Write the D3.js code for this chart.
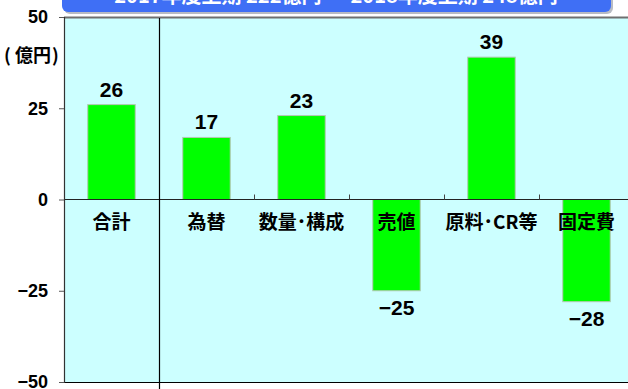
<!DOCTYPE html>
<html>
<head>
<meta charset="utf-8">
<script src="https://cdn.jsdelivr.net/npm/d3@7"></script>
<style>
  body { margin: 0; background: #fff; }
  svg { display: block; font-family: "Noto Sans CJK JP", "Noto Sans", sans-serif; }
  .unit tspan { font-size: 18px; font-weight: bold; }
</style>
</head>
<body>
<div id="chart"></div>
<script>
// data
let categories = ["合計", "為替", "数量･構成", "売値", "原料･CR等", "固定費"];
let values = [26, 17, 23, -25, 39, -28];
let yTicks = [50, 25, 0, -25, -50];
let bannerText = "2017年度上期 222億円 → 2018年度上期 248億円";
let unitLabel = "億円";

let width = 628, height = 389;
let plot = {left: 64, top: 17, right: 634, bottom: 382};
let numFont = "'Liberation Sans', Arial, sans-serif";

let svg = d3.select("#chart").append("svg")
    .attr("width", width)
    .attr("height", height);

let x = d3.scaleBand()
    .domain(categories)
    .range([plot.left, plot.right])
    .paddingInner(0.5)
    .paddingOuter(0.25);

let y = d3.scaleLinear()
    .domain([-50, 50])
    .range([plot.bottom, plot.top]);

// plot background
svg.append("rect")
    .attr("x", plot.left)
    .attr("y", plot.top)
    .attr("width", plot.right - plot.left)
    .attr("height", plot.bottom - plot.top)
    .attr("fill", "#ccffff");

// top border
svg.append("line")
    .attr("x1", plot.left).attr("x2", width)
    .attr("y1", plot.top + 0.5).attr("y2", plot.top + 0.5)
    .attr("stroke", "#6f7070").attr("stroke-width", 2);

// banner (cut off at top)
svg.append("rect")
    .attr("x", 64).attr("y", -20)
    .attr("width", 549).attr("height", 34)
    .attr("rx", 6)
    .attr("fill", "#b8bcc4");
svg.append("rect")
    .attr("x", 62).attr("y", -20)
    .attr("width", 549).attr("height", 32)
    .attr("rx", 6)
    .attr("fill", "#3f6ff5");
svg.append("text")
    .attr("x", 336).attr("y", 3)
    .attr("text-anchor", "middle")
    .attr("font-size", 20)
    .attr("font-weight", "bold")
    .attr("fill", "#ffffff")
    .text(bannerText);

// bars
svg.selectAll(".bar").data(values).enter().append("rect")
    .attr("class", "bar")
    .attr("x", function (d, i) { return x(categories[i]); })
    .attr("y", function (d) { return y(Math.max(0, d)); })
    .attr("width", x.bandwidth())
    .attr("height", function (d) { return Math.abs(y(d) - y(0)); })
    .attr("fill", "#00ff00")
    .attr("stroke", "#b4c8b4")
    .attr("stroke-width", 1);

// zero line with small ticks between categories
svg.append("line")
    .attr("x1", plot.left).attr("x2", width)
    .attr("y1", y(0)).attr("y2", y(0))
    .attr("stroke", "#222").attr("stroke-width", 1.2);

let step = x.step();
for (let i = 2; i < categories.length; i++) {
    let tx = Math.round(plot.left + step * i) + 0.5;
    svg.append("line")
        .attr("x1", tx).attr("x2", tx)
        .attr("y1", y(0) - 5).attr("y2", y(0))
        .attr("stroke", "#444");
}

// divider after 合計
let divX = Math.round(plot.left + step) + 0.5;
svg.append("line")
    .attr("x1", divX).attr("x2", divX)
    .attr("y1", plot.top + 1).attr("y2", height)
    .attr("stroke", "#000").attr("stroke-width", 1.2);

// bottom line
svg.append("line")
    .attr("x1", plot.left).attr("x2", width)
    .attr("y1", plot.bottom + 0.5).attr("y2", plot.bottom + 0.5)
    .attr("stroke", "#000").attr("stroke-width", 1.2);

// y axis
let yAxis = d3.axisLeft(y)
    .tickValues(yTicks)
    .tickSize(5)
    .tickPadding(11)
    .tickFormat(function (d) { return d < 0 ? "−" + Math.abs(d) : d; });

let gy = svg.append("g")
    .attr("transform", "translate(" + plot.left + ",0)")
    .call(yAxis);
gy.select(".domain").attr("stroke", "#333").attr("stroke-width", 1.2);
gy.selectAll(".tick line").attr("stroke", "#555");
gy.selectAll(".tick text")
    .attr("font-size", 18)
    .attr("font-weight", "bold")
    .attr("fill", "#000")
    .attr("font-family", numFont);

// unit label: (億円) with wide parens
let unit = svg.append("text")
    .attr("class", "unit")
    .attr("y", 62)
    .attr("fill", "#000");
unit.append("tspan").attr("x", 4).text("(");
unit.append("tspan").attr("x", 15).text(unitLabel);
unit.append("tspan").attr("x", 52).text(")");

// value labels
svg.selectAll(".val").data(values).enter().append("text")
    .attr("class", "val")
    .attr("x", function (d, i) { return x(categories[i]) + x.bandwidth() / 2; })
    .attr("y", function (d) { return d >= 0 ? y(d) - 8 : y(d) + 24; })
    .attr("text-anchor", "middle")
    .attr("font-size", 21)
    .attr("font-weight", "bold")
    .attr("fill", "#000")
    .attr("font-family", numFont)
    .text(function (d) { return d < 0 ? "−" + Math.abs(d) : d; });

// category labels
svg.selectAll(".cat").data(categories).enter().append("text")
    .attr("class", "cat")
    .attr("x", function (d) { return x(d) + x.bandwidth() / 2; })
    .attr("y", y(0) + 29)
    .attr("text-anchor", "middle")
    .attr("font-size", 19)
    .attr("font-weight", "bold")
    .attr("fill", "#000")
    .text(function (d) { return d; });
</script>
</body>
</html>
